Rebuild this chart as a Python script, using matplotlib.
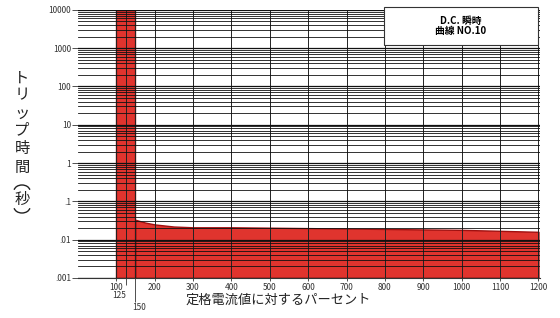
import numpy as np
import matplotlib
matplotlib.use("Agg")
import matplotlib.pyplot as plt
from matplotlib.patches import Rectangle, Arc

plt.rcParams['font.family'] = ['Noto Sans CJK JP', 'DejaVu Sans']

# trip curve (percent of rated current vs trip time in s)
band_x = [100, 150]
band_top = 10000
curve_x = [150, 175, 200, 250, 300, 400, 500, 600, 700, 800, 900, 1000, 1100, 1200]
curve_y = [0.033, 0.028, 0.025, 0.022, 0.021, 0.021, 0.0205, 0.020, 0.0195, 0.019, 0.0185, 0.018, 0.017, 0.016]
y_floor = 0.001

x_ticks = [100, 200, 300, 400, 500, 600, 700, 800, 900, 1000, 1100, 1200]
y_ticks = [0.001, 0.01, 0.1, 1, 10, 100, 1000, 10000]
y_labels = [".001", ".01", ".1", "1", "10", "100", "1000", "10000"]

W, H = 560, 318
fig = plt.figure(figsize=(W / 100, H / 100), dpi=100)
ax = fig.add_axes([0.139, 0.126, 0.826, 0.843])

red = "#e0342e"
ax.fill_between(band_x, y_floor, band_top, color=red, edgecolor="#a01010", lw=1, zorder=1)
ax.fill_between(curve_x, y_floor, curve_y, color=red, edgecolor="#a01010", lw=1, zorder=1)

ax.set_yscale("log")
ax.set_xlim(0, 1205)
ax.set_ylim(0.001, 10000)

# grid
for v in x_ticks + [125, 150]:
    ax.axvline(v, color="#222222", lw=0.7, zorder=2)
for d in range(-3, 4):
    for m in range(1, 10):
        ax.axhline(m * 10.0 ** d, color="#111111", lw=0.6 if m > 1 else 0.9, zorder=2)
ax.axhline(10000, color="#111111", lw=0.9, zorder=2)

for s in ["top", "right", "left"]:
    ax.spines[s].set_visible(False)
ax.spines["bottom"].set_color("#333333")

ax.set_yticks(y_ticks, labels=y_labels)
ax.yaxis.set_minor_locator(matplotlib.ticker.NullLocator())
ax.tick_params(axis="y", labelsize=6, length=4, width=0.6, colors="#333333", pad=1)

ax.set_xticks(x_ticks, labels=[str(v) for v in x_ticks])
ax.tick_params(axis="x", labelsize=6, length=2, width=0.6, colors="#333333", pad=2)
ax.set_xticks([125, 150], labels=["", ""], minor=True)
ax.tick_params(axis="x", which="minor", colors="#333333", width=0.6)
mt = ax.xaxis.get_minor_ticks()
mt[0].tick1line.set_markersize(5)
mt[1].tick1line.set_markersize(17)
ax.annotate("125", xy=(125, 0), xycoords=("data", "axes fraction"), xytext=(-4.5, -13),
            textcoords="offset points", ha="center", va="center", fontsize=6, color="#333333")
ax.annotate("150", xy=(150, 0), xycoords=("data", "axes fraction"), xytext=(2.5, -21),
            textcoords="offset points", ha="center", va="center", fontsize=6, color="#333333")

# vertical y label, one glyph per line (pixel centres from top)
ylab = ["ト", "リ", "ッ", "プ", "時", "間", "秒"]
ylab_y = [78, 95, 113, 130, 148, 167, 199]
for ch, py in zip(ylab, ylab_y):
    fig.text(22 / W, 1 - py / H, ch, ha="center", va="center", fontsize=11, color="#222222")
# vertical-form parentheses around 秒
fig.add_artist(Arc((22 / W, 1 - 191 / H), 16 / W, 12 / H, theta1=15, theta2=165,
                   transform=fig.transFigure, color="#222222", lw=1.0))
fig.add_artist(Arc((22 / W, 1 - 207 / H), 16 / W, 12 / H, theta1=195, theta2=345,
                   transform=fig.transFigure, color="#222222", lw=1.0))

fig.text(0.496, 0.057, "定格電流値に対するパーセント", ha="center", va="center",
         fontsize=9.5, color="#222222")

# legend box
ax.add_patch(Rectangle((0.662, 0.87), 0.333, 0.14, transform=ax.transAxes,
                       fc="white", ec="#333333", lw=0.8, zorder=5, clip_on=False))
ax.text(0.828, 0.94, "D.C. 瞬時\n曲線 NO.10", transform=ax.transAxes, ha="center", va="center",
        fontsize=7, fontweight="bold", linespacing=1.0, zorder=6)

fig.savefig("out.png", dpi=100)
